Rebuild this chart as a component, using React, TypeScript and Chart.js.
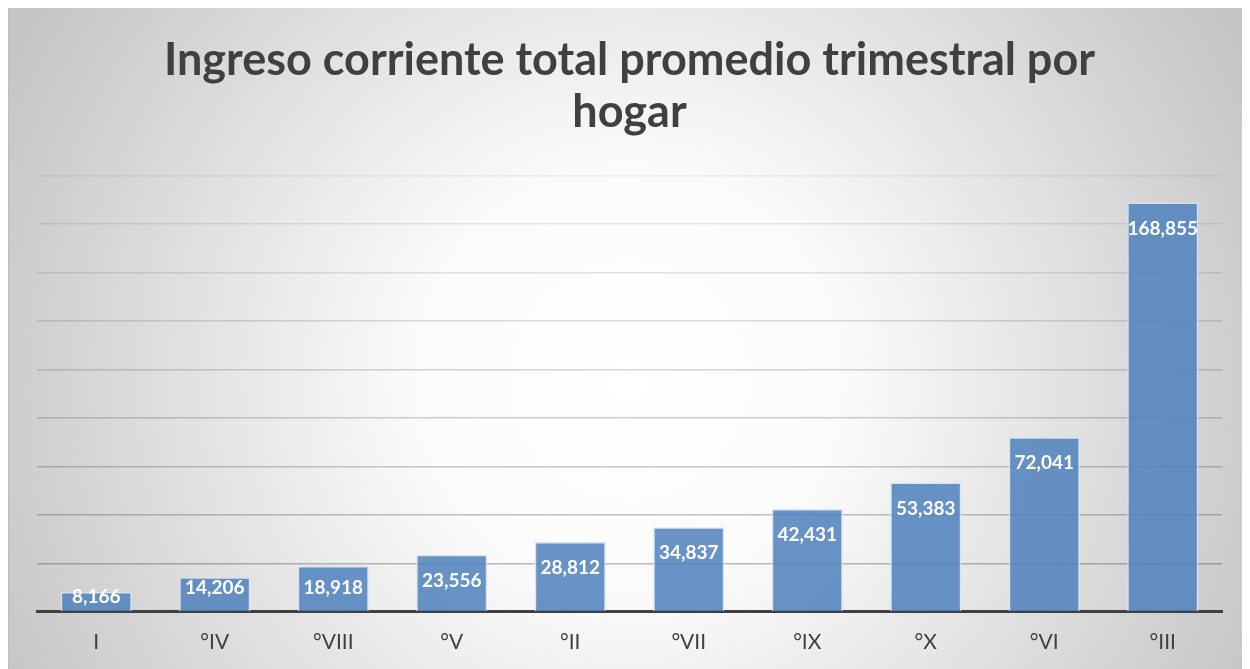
import React, { useEffect, useRef } from "react";
import { Chart, registerables } from "chart.js";

Chart.register(...registerables);

const categories = ["I", "°IV", "°VIII", "°V", "°II", "°VII", "°IX", "°X", "°VI", "°III"];
const ingreso = [8166, 14206, 18918, 23556, 28812, 34837, 42431, 53383, 72041, 168855];
const titleLines = ["Ingreso corriente total promedio trimestral por", "hogar"];
const yMax = 180000;
const yStep = 20000;

const bgPlugin = {
  id: "bgPlugin",
  beforeDraw(chart: any) {
    const { ctx, width, height } = chart;
    ctx.save();
    const g = ctx.createRadialGradient(width * 0.5, height * 0.56, 0, width * 0.5, height * 0.56, width * 0.56);
    g.addColorStop(0, "#ffffff");
    g.addColorStop(0.3, "#fbfbfb");
    g.addColorStop(1, "#c5c5c5");
    ctx.fillStyle = g;
    ctx.fillRect(0, 0, width, height);
    ctx.fillStyle = "#bdbdbd";
    ctx.fillRect(0, 0, width, 2);
    ctx.fillRect(0, 0, 2, height);
    ctx.restore();
  },
};

const labelPlugin = {
  id: "labelPlugin",
  afterDatasetsDraw(chart: any) {
    const { ctx } = chart;
    const meta = chart.getDatasetMeta(0);
    const data = chart.data.datasets[0].data as number[];
    ctx.save();
    ctx.fillStyle = "#ffffff";
    ctx.font = "bold 19px Lato";
    ctx.textAlign = "center";
    ctx.textBaseline = "middle";
    meta.data.forEach((bar: any, i: number) => {
      const h = bar.base - bar.y;
      const cy = h < 25 ? bar.y + 5 : Math.min(bar.y + 26, bar.base - 23);
      ctx.fillText(data[i].toLocaleString("en-US"), bar.x, cy);
    });
    ctx.restore();
  },
};

export default function App() {
  const ref = useRef<HTMLCanvasElement>(null);
  useEffect(() => {
    if (!ref.current) return;
    const chart = new Chart(ref.current, {
      type: "bar",
      data: {
        labels: categories,
        datasets: [
          {
            data: ingreso,
            backgroundColor: "rgba(79,129,189,0.86)",
            borderColor: "rgba(215,226,240,0.95)",
            borderWidth: 1.5,
            barPercentage: 0.6,
            categoryPercentage: 1,
          },
        ],
      },
      options: {
        animation: false,
        responsive: false,
        layout: { padding: { left: 30, right: 28, top: 0, bottom: 0 } },
        plugins: {
          legend: { display: false },
          tooltip: { enabled: false },
          title: {
            display: true,
            text: titleLines,
            color: "#404040",
            font: { family: "Lato", size: 45, weight: "bold", lineHeight: 1.16 },
            padding: { top: 29, bottom: 37 },
          },
        },
        scales: {
          x: {
            grid: { display: false, drawTicks: false },
            border: { display: true, color: "#404040", width: 3 },
            ticks: { color: "#404040", font: { family: "Lato", size: 21 }, padding: 18 },
          },
          y: {
            min: 0,
            max: yMax,
            ticks: { display: false, stepSize: yStep },
            border: { display: false },
            grid: {
              drawTicks: false,
              lineWidth: 1.5,
              color: (c: any) => {
                const t = c.tick ? c.tick.value / yMax : 0;
                const a = 0.38 - 0.3 * t;
                return `rgba(60,60,60,${a.toFixed(3)})`;
              },
            },
          },
        },
      },
      plugins: [bgPlugin, labelPlugin],
    });
    return () => chart.destroy();
  }, []);
  return (
    <div style={{ margin: "-3px 0 0 -1px" }}>
      <canvas ref={ref} width={1243} height={668} style={{ display: "block" }} />
    </div>
  );
}
